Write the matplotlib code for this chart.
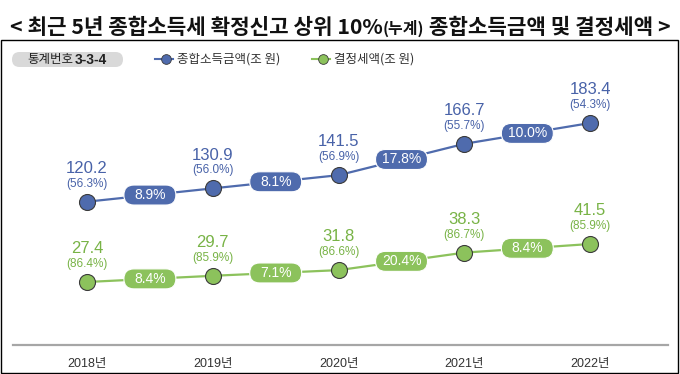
"""
Top 10% (cumulative) of comprehensive income tax filers, 2018-2022:
comprehensive income and determined tax, with yearly growth pills.
"""

import matplotlib
matplotlib.use("Agg")
import matplotlib.pyplot as plt
from matplotlib import transforms
from matplotlib.patches import FancyBboxPatch, Rectangle

plt.rcParams["font.family"] = ["Liberation Sans", "Noto Sans CJK KR", "DejaVu Sans"]

# ---- Data ----
years = ["2018년", "2019년", "2020년", "2021년", "2022년"]
income = [120.2, 130.9, 141.5, 166.7, 183.4]          # 종합소득금액 (조 원)
income_share = ["56.3%", "56.0%", "56.9%", "55.7%", "54.3%"]
income_growth = ["8.9%", "8.1%", "17.8%", "10.0%"]
tax = [27.4, 29.7, 31.8, 38.3, 41.5]                  # 결정세액 (조 원)
tax_share = ["86.4%", "85.9%", "86.6%", "86.7%", "85.9%"]
tax_growth = ["8.4%", "7.1%", "20.4%", "8.4%"]

BLUE = "#4f6bad"
BLUE_TXT = "#4862a8"
GREEN = "#8cc25c"
GREEN_TXT = "#78b346"
EDGE = "#3a3a3a"

W, H = 680, 374


def fx(px):
    return px / W


def fy(py):
    return 1 - py / H


fig = plt.figure(figsize=(W / 100, H / 100), dpi=100)

# frame round the chart
fig.patches.append(Rectangle((fx(1), fy(373)), fx(678) - fx(1), fy(40) - fy(373),
                             transform=fig.transFigure, fill=False,
                             edgecolor="black", linewidth=1.0))

# ---- Title (the "(누계)" part is set smaller) ----
title_parts = [("< 최근 5년 종합소득세 확정신고 상위 10%", 15.3),
               ("(누계)", 11.5),
               (" 종합소득금액 및 결정세액 >", 15.3)]
renderer = fig.canvas.get_renderer()
texts = []
total = 0.0
for s, size in title_parts:
    t = fig.text(0, fy(34), s, fontsize=size, fontweight="bold",
                 family=["Noto Sans CJK KR"], va="baseline", ha="left", color="#111111")
    texts.append(t)
    total += t.get_window_extent(renderer).width / W
offs = 0.5 - total / 2
for t in texts:
    t.set_x(offs)
    offs += t.get_window_extent(renderer).width / W

# ---- Axes: blue on ax, green on twin ----
ax = fig.add_axes([fx(13), fy(345), fx(668) - fx(13), fy(80) - fy(345)])
ax2 = ax.twinx()
xs = list(range(len(years)))
for a in (ax, ax2):
    a.set_xlim(-0.588, 4.618)
    for side in ("top", "left", "right"):
        a.spines[side].set_visible(False)
    a.set_yticks([])
    a.patch.set_visible(False)
ax.set_ylim(5.1, 217.95)
ax2.set_ylim(4.02, 102.35)
ax.spines["bottom"].set_color("#a6a6a6")
ax.spines["bottom"].set_linewidth(1.6)
ax2.spines["bottom"].set_visible(False)
ax.set_xticks(xs)
ax.set_xticklabels(years, fontsize=9, color="#333333")
ax.tick_params(axis="x", length=0, pad=9)


def draw_series(a, vals, shares, growth, color, txt_color):
    a.plot(xs, vals, color=color, linewidth=1.6, zorder=2)
    a.plot(xs, vals, "o", markersize=11.5, markerfacecolor=color,
           markeredgecolor=EDGE, markeredgewidth=0.8, zorder=4)
    for x, v, s in zip(xs, vals, shares):
        a.annotate(f"{v:.1f}", (x, v), xytext=(0, 24), textcoords="offset points",
                   ha="center", va="center", fontsize=12, color=txt_color)
        a.annotate(f"({s})", (x, v), xytext=(0, 13), textcoords="offset points",
                   ha="center", va="center", fontsize=8.5, color=txt_color)
    for i, g in enumerate(growth):
        mx = (xs[i] + xs[i + 1]) / 2
        my = (vals[i] + vals[i + 1]) / 2
        trans = fig.dpi_scale_trans + transforms.ScaledTranslation(mx, my, a.transData)
        pill = FancyBboxPatch((-0.26, -0.10), 0.52, 0.20,
                              boxstyle="round,pad=0,rounding_size=0.1",
                              transform=trans, facecolor=color,
                              edgecolor="white", linewidth=0.8, zorder=3)
        a.add_patch(pill)
        a.annotate(g, (mx, my), ha="center", va="center", fontsize=10,
                   color="white", zorder=5)


draw_series(ax, income, income_share, income_growth, BLUE, BLUE_TXT)
draw_series(ax2, tax, tax_share, tax_growth, GREEN, GREEN_TXT)

# ---- Legend row ----
fig.patches.append(FancyBboxPatch((0.12, (H - 67) / 100), 1.11, 0.15,
                                  boxstyle="round,pad=0,rounding_size=0.075",
                                  transform=fig.dpi_scale_trans, facecolor="#d9d9d9",
                                  edgecolor="none"))
fig.text(fx(27), fy(60), "통계번호", fontsize=9, va="center", ha="left",
         family=["Noto Sans CJK KR"], color="#222222")
fig.text(fx(75), fy(60), "3-3-4", fontsize=10, va="center", ha="left",
         fontweight="bold", family=["Liberation Sans"], color="#222222")

for x0, color, label in [(166, BLUE, "종합소득금액(조 원)"), (323, GREEN, "결정세액(조 원)")]:
    fig.lines.append(plt.Line2D([fx(x0 - 11), fx(x0 + 7)], [fy(59), fy(59)],
                                transform=fig.transFigure, color=color, linewidth=1.5))
    fig.lines.append(plt.Line2D([fx(x0)], [fy(59)], transform=fig.transFigure,
                                marker="o", markersize=7, markerfacecolor=color,
                                markeredgecolor=EDGE, markeredgewidth=0.6))
    fig.text(fx(x0 + 11), fy(59), label, fontsize=9, va="center", ha="left",
             family=["Noto Sans CJK KR"], color="#333333")

fig.savefig("out.png", dpi=100)
